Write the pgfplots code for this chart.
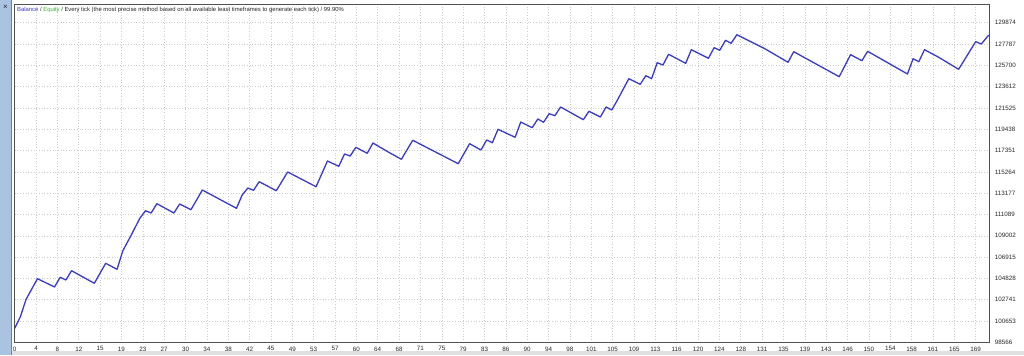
\documentclass[border=0pt]{standalone}
\usepackage{fontspec}
\setmainfont{Liberation Sans}
\usepackage{pgfplots}
\pgfplotsset{compat=1.18}
\definecolor{bal}{RGB}{58,58,204}
\definecolor{eqc}{RGB}{50,180,50}
\definecolor{gridc}{RGB}{205,205,205}
\definecolor{framec}{RGB}{80,80,80}
\definecolor{side}{RGB}{170,195,225}
\definecolor{txt}{RGB}{40,40,40}
\begin{document}
\begin{tikzpicture}[x=1bp,y=1bp]
\useasboundingbox (0,0) rectangle (1024,355);
\fill[white] (0,0) rectangle (1024,355);
\fill[side] (0,0) rectangle (11,355);
\draw[gray,line width=0.8bp] (11.5,0)--(11.5,355);
\fill[black!12] (12,0) rectangle (1024,4);
\node[font=\fontsize{8}{9}\selectfont,text=txt] at (5.5,348) {×};
\begin{axis}[
  at={(14.7bp,12.7bp)}, anchor=south west,
  scale only axis, width=974.6bp, height=337.8bp,
  xmin=0, xmax=171.4, ymin=98566, ymax=131667,
  scaled x ticks=false, scaled y ticks=false,
  axis line style={framec, line width=0.8bp},
  grid=major, major grid style={gridc, dash pattern=on 0.7bp off 2bp, line width=0.6bp},
  major tick length=0pt,
  xtick={0,3.7556,...,169.1},
  xticklabels={0,4,8,12,15,19,23,27,30,34,38,42,45,49,53,57,60,64,68,71,75,79,83,86,90,94,98,101,105,109,113,116,120,124,128,131,135,139,143,146,150,154,158,161,165,169},
  ytick={98566,100653.2,102740.4,104827.6,106914.8,109002,111089.2,113176.4,115263.6,117350.8,119438,121525.2,123612.4,125699.6,127786.8,129874},
  yticklabels={98566,100653,102741,104828,106915,109002,111089,113177,115264,117351,119438,121525,123612,125700,127787,129874},
  yticklabel pos=right,
  ticklabel style={font=\fontsize{6.3}{7}\selectfont, text=txt},
  yticklabel style={anchor=west, xshift=2bp},
  xticklabel style={anchor=north, yshift=-0.8bp},
]
\addplot[bal, line width=1.3bp, line join=round] coordinates {
(0,99938)(1,101075)(2,102780)(4,104798)(7,103985)(8,104935)(9,104671)(10,105582)(14,104347)(16,106307)(18,105719)(19,107512)(20.5,109080)(22,110717)(23,111462)(24,111236)(25,112147)(28,111236)(29,112118)(31,111559)(33,113490)(39,111697)(40,113000)(41,113686)(42,113460)(43,114303)(46,113421)(48,115254)(53,113813)(55,116332)(57,115812)(58,117018)(59,116821)(60,117674)(62,117086)(63,118095)(65.6,117243)(68,116498)(70,118360)(78,116067)(80,118027)(82,117409)(83,118389)(84,118125)(85,119438)(88,118654)(89,120153)(91,119595)(92,120447)(93,120124)(94,120967)(95,120771)(96,121623)(100,120379)(101,121202)(103,120643)(104,121623)(105,121329)(106,122309)(108,124396)(110,123847)(111,124690)(112,124396)(113,125964)(114,125739)(115,126787)(118,125905)(119,127238)(122,126395)(123,127434)(124,127179)(125,128159)(126,127865)(127,128708)(132,127307)(136,126003)(137,127042)(145,124592)(147,126748)(149,126160)(150,127081)(157,124857)(158,126356)(159,126062)(160,127238)(162.5,126493)(166,125317)(169,128022)(170,127796)(171.3,128678)
};
\end{axis}
\node[anchor=west, font=\fontsize{5.9}{7}\selectfont, text=txt, inner sep=0pt] at (17,345) {\textcolor{bal}{Balance} / \textcolor{eqc}{Equity} / Every tick (the most precise method based on all available least timeframes to generate each tick) / 99.90\%};
\end{tikzpicture}
\end{document}
